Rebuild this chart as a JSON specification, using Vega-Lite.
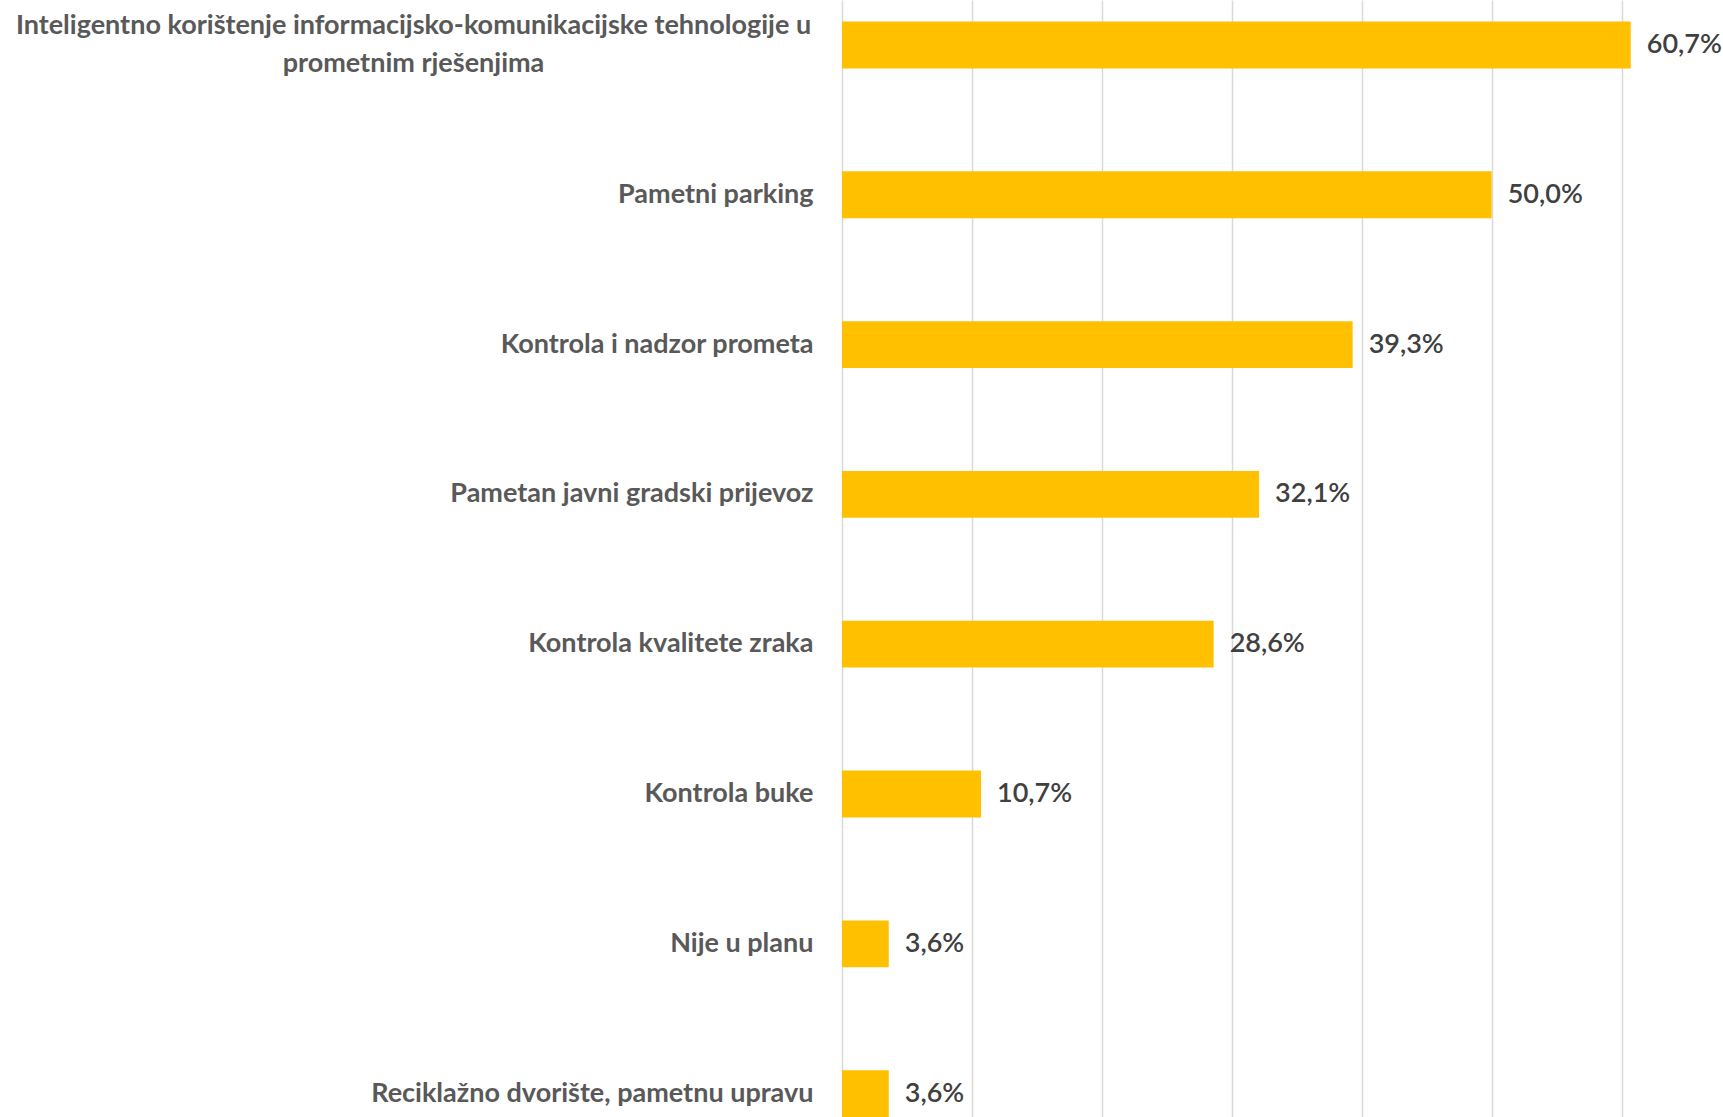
{
  "$schema": "https://vega.github.io/schema/vega-lite/v6.json",
  "width": 881,
  "height": 1117,
  "autosize": {"type": "none"},
  "padding": {"left": 842, "top": 0, "right": 0, "bottom": 0},
  "background": "white",
  "config": {
    "view": {"stroke": null},
    "locale": {"number": {"decimal": ",", "thousands": ".", "grouping": [3], "currency": ["", " €"]}}
  },
  "data": {
    "values": [
      {"kategorija": "Inteligentno korištenje informacijsko-komunikacijske tehnologije u prometnim rješenjima", "udio": 0.607},
      {"kategorija": "Pametni parking", "udio": 0.5},
      {"kategorija": "Kontrola i nadzor prometa", "udio": 0.393},
      {"kategorija": "Pametan javni gradski prijevoz", "udio": 0.321},
      {"kategorija": "Kontrola kvalitete zraka", "udio": 0.286},
      {"kategorija": "Kontrola buke", "udio": 0.107},
      {"kategorija": "Nije u planu", "udio": 0.036},
      {"kategorija": "Reciklažno dvorište, pametnu upravu", "udio": 0.036}
    ]
  },
  "encoding": {
    "y": {
      "field": "kategorija",
      "type": "nominal",
      "sort": null,
      "scale": {"paddingInner": 0.6875, "paddingOuter": 0.072, "align": 1},
      "axis": {
        "title": null,
        "ticks": false,
        "domain": false,
        "labelFont": "Lato",
        "labelFontSize": 27,
        "labelFontWeight": "bold",
        "labelColor": "#595959",
        "labelLimit": 1000,
        "labelLineHeight": 38,
        "labelBaseline": "middle",
        "labelAlign": {"condition": {"test": "indexof(datum.value, 'Inteligentno') == 0", "value": "center"}, "value": "right"},
        "labelPadding": {"condition": {"test": "indexof(datum.value, 'Inteligentno') == 0", "value": 429}, "value": 29},
        "labelOffset": {"condition": {"test": "indexof(datum.value, 'Inteligentno') == 0", "value": -19}, "value": 0},
        "labelExpr": "indexof(datum.value, 'Inteligentno') == 0 ? ['Inteligentno korištenje informacijsko-komunikacijske tehnologije u', 'prometnim rješenjima'] : datum.value"
      }
    },
    "x": {
      "field": "udio",
      "type": "quantitative",
      "scale": {"domain": [0, 0.678], "nice": false},
      "axis": {
        "title": null,
        "values": [0, 0.1, 0.2, 0.3, 0.4, 0.5, 0.6],
        "labels": false,
        "ticks": false,
        "domain": false,
        "grid": true,
        "gridColor": "#d9d9d9",
        "gridWidth": 1.5
      }
    }
  },
  "layer": [
    {"mark": {"type": "bar", "color": "#FFC000"}},
    {
      "mark": {"type": "text", "align": "left", "baseline": "middle", "dx": 16, "font": "Lato", "fontSize": 27, "fontWeight": 600, "color": "#404040"},
      "encoding": {"text": {"field": "udio", "type": "quantitative", "format": ".1%"}}
    }
  ]
}
